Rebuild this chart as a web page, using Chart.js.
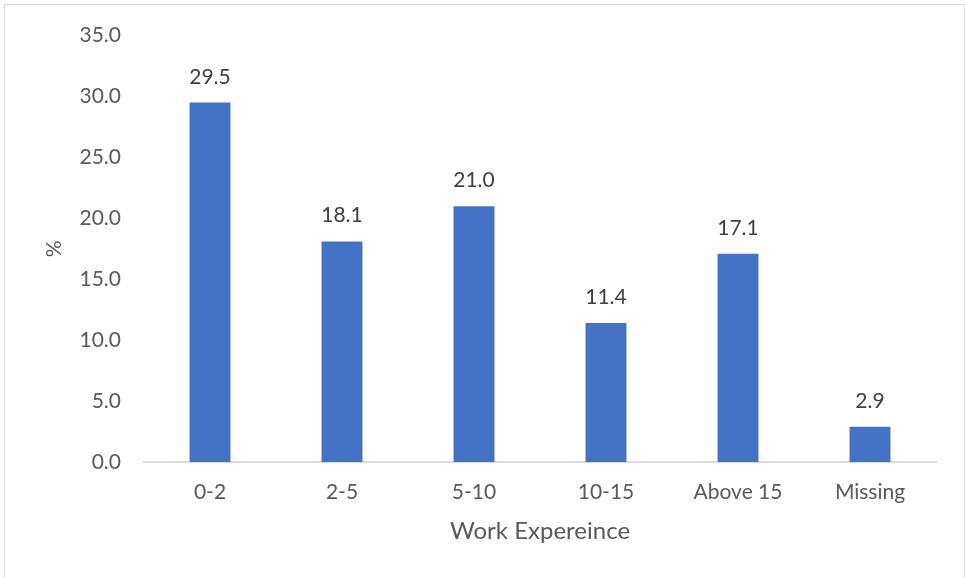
<!DOCTYPE html>
<html>
<head>
<meta charset="utf-8">
<script src="https://cdn.jsdelivr.net/npm/chart.js@4"></script>
<style>
  html, body { margin: 0; padding: 0; background: #fff; overflow: hidden; }
  #wrap { position: relative; width: 965px; height: 578px; }
  #frame { position: absolute; left: 4px; top: 4px; width: 959px; height: 590px; border: 1px solid #d9d9d9; pointer-events: none; }
</style>
</head>
<body>
<div id="wrap">
  <canvas id="chart" width="965" height="578"></canvas>
  <div id="frame"></div>
</div>
<script>
const categories = ["0-2", "2-5", "5-10", "10-15", "Above 15", "Missing"];
const percents = [29.5, 18.1, 21.0, 11.4, 17.1, 2.9];
const yTicks = [0, 5, 10, 15, 20, 25, 30, 35];

const FONT = "Lato, 'Open Sans', sans-serif";

// value labels above each bar
const barLabels = {
    id: 'barLabels',
    afterDatasetsDraw(chart) {
        const ctx = chart.ctx;
        const meta = chart.getDatasetMeta(0);
        ctx.save();
        ctx.font = "21px " + FONT;
        ctx.fillStyle = "#404040";
        ctx.textAlign = "center";
        ctx.textBaseline = "alphabetic";
        meta.data.forEach(function(bar, i) {
            ctx.fillText(percents[i].toFixed(1), bar.x, bar.y - 19);
        });
        ctx.restore();
    }
};

new Chart(document.getElementById('chart'), {
    type: 'bar',
    data: {
        labels: categories,
        datasets: [{
            data: percents,
            backgroundColor: "#4472c4",
            barPercentage: 0.31,
            categoryPercentage: 1
        }]
    },
    options: {
        responsive: false,
        animation: false,
        layout: { padding: { top: 33, right: 29, bottom: 32, left: 0 } },
        plugins: {
            legend: { display: false },
            tooltip: { enabled: false }
        },
        scales: {
            x: {
                grid: { display: false, drawTicks: false },
                border: { display: true, color: "#d9d9d9", width: 2 },
                ticks: { color: "#595959", font: { family: FONT, size: 21 }, padding: 18 },
                title: { display: true, text: "Work Expereince", color: "#595959", font: { family: FONT, size: 24 }, padding: 0 },
                afterFit(scale) { scale.height = 84; }
            },
            y: {
                min: 0, max: 35,
                afterBuildTicks(scale) { scale.ticks = yTicks.map(v => ({ value: v })); },
                grid: { display: false, drawTicks: false },
                border: { display: false },
                ticks: { color: "#595959", font: { family: FONT, size: 21 }, padding: 23,
                    callback: v => v.toFixed(1) },
                title: { display: true, text: "%", color: "#595959", font: { family: FONT, size: 21 }, padding: { top: 42 } },
                afterFit(scale) { scale.width = 144; }
            }
        }
    },
    plugins: [barLabels]
});
</script>
</body>
</html>
